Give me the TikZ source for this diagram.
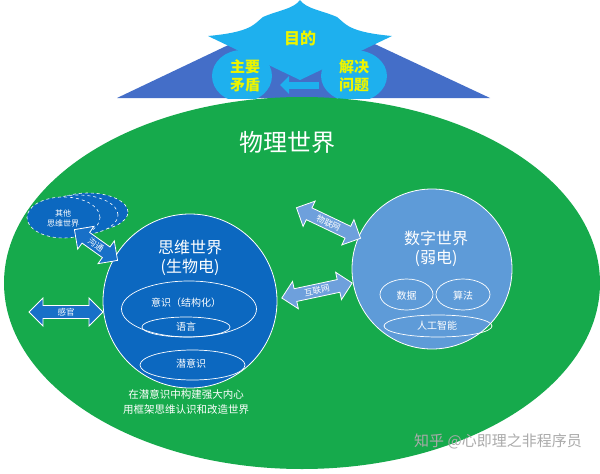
\documentclass[tikz,border=0pt]{standalone}
\usepackage{fontspec}
\setmainfont{Noto Sans CJK SC}
\usetikzlibrary{shapes.geometric,shapes.arrows,arrows.meta}
\definecolor{grn}{RGB}{22,170,76}
\definecolor{darkc}{RGB}{12,104,192}
\definecolor{lightc}{RGB}{94,155,216}
\definecolor{tri}{RGB}{68,110,200}
\definecolor{sky}{RGB}{30,176,238}
\definecolor{ylw}{RGB}{236,244,0}
\definecolor{darka}{RGB}{24,112,200}
\definecolor{lighta}{RGB}{110,160,220}
\definecolor{wm}{RGB}{170,170,170}
\tikzset{
  fs/.style={font=\fontsize{#1}{#1}\selectfont},
  topell/.style={ellipse, fill=sky, inner sep=0pt},
  toptxt/.style={text=ylw, font=\fontsize{15}{18}\selectfont\bfseries, align=center},
  world/.style={circle, draw=white, line width=0.8pt, inner sep=0pt},
  inell/.style={ellipse, draw=white, line width=0.7pt, inner sep=0pt},
  intxt/.style={text=white, font=\fontsize{10}{10}\selectfont},
  ttl/.style={text=white, font=\fontsize{16}{19}\selectfont, align=center},
  other/.style={ellipse, fill=darkc, draw=white, dashed, line width=0.6pt, inner sep=0pt},
  dblarrow/.style={double arrow, draw=white, line width=0.8pt, double arrow head extend=7.5pt,
    double arrow tip angle=90, inner xsep=1pt, inner ysep=2.2pt, text=white,
    font=\fontsize{8.5}{8.5}\selectfont},
}
\begin{document}
\begin{tikzpicture}[x=1pt,y=-1pt]
\useasboundingbox[fill=white] (0,0) rectangle (600,474);

% ---- top emblem
\fill[tri] (117,98) -- (302,10) -- (490,98) -- cycle;
\fill[sky] (300,0) .. controls (294,9) and (276,11) .. (263,17)
  .. controls (254,24) and (252,32) .. (208,36) -- (300,80) -- (392,36)
  .. controls (348,32) and (346,24) .. (337,17)
  .. controls (324,11) and (306,9) .. (300,0) -- cycle;
\begin{scope}
  \clip (100,0) rectangle (500,98);
  \node[topell, minimum width=60pt, minimum height=52pt] (zy) at (242,76) {};
  \node[topell, minimum width=66pt, minimum height=52pt] (jj) at (354,76) {};
\end{scope}
\node[toptxt, font=\fontsize{16}{18}\selectfont\bfseries] (md) at (300,38) {目的};
\node[toptxt] (zyt) at (245,76) {主要\\矛盾};
\node[toptxt] (jjt) at (354,76) {解决\\问题};
\coordinate (arS) at (319,85);
\coordinate (arE) at (280,85);
\draw[sky, line width=7pt, -{Triangle[width=17pt,length=9pt]}] (arS) -- (arE);

% ---- physical world
\node[ellipse, fill=grn, minimum width=596pt, minimum height=372pt, inner sep=0pt] (phys) at (302,283) {};
\node[text=white, fs=24] (physt) at (287,142) {物理世界};

% ---- other thinking worlds
\node[other, minimum width=80pt, minimum height=38pt] (o3) at (88,212) {};
\node[other, minimum width=80pt, minimum height=40pt] (o2) at (78,215) {};
\node[other, minimum width=73pt, minimum height=41pt] (o1) at (63.5,217.5) {};
\node[text=white, font=\fontsize{8}{10.5}\selectfont, align=center] (o1t) at (63,218.5) {其他\\思维世界};

% ---- thinking world
\node[world, fill=darkc, minimum size=174pt] (think) at (190,301) {};
\node[ttl] (thinkt) at (190,257.5) {思维世界\\(生物电)};
\node[inell, minimum width=135pt, minimum height=56pt] (yse) at (189,309) {};
\node[intxt] (yst) at (186,303) {意识（结构化）};
\node[inell, minimum width=88pt, minimum height=20pt] (yy) at (186,327) {};
\node[intxt] (yyt) at (186,327) {语言};
\node[inell, minimum width=105pt, minimum height=30pt] (qy) at (192.5,365) {};
\node[intxt] (qyt) at (191,364) {潜意识};
\node[text=white, font=\fontsize{10.5}{15}\selectfont, align=center] (note) at (186,402) {在潜意识中构建强大内心\\用框架思维认识和改造世界};

% ---- digital world
\node[world, fill=lightc, minimum size=160pt] (digi) at (432,269) {};
\node[ttl] (digit) at (436,249) {数字世界\\(弱电)};
\node[inell, minimum width=53pt, minimum height=31pt] (sj) at (406.5,294.5) {};
\node[intxt] (sjt) at (406.5,296) {数据};
\node[inell, minimum width=54pt, minimum height=31pt] (sf) at (463,294.5) {};
\node[intxt] (sft) at (463,296) {算法};
\node[inell, minimum width=108pt, minimum height=22pt] (ai) at (438,326) {};
\node[intxt] (ait) at (437,326) {人工智能};

% ---- double arrows
\node[dblarrow, fill=darka, minimum height=53pt, rotate=-35.5] (gt) at (96,245) {沟通};
\node[dblarrow, fill=darka, minimum height=74pt] (gg) at (66,312) {感官};
\node[dblarrow, fill=lighta, minimum height=71pt, rotate=-25.5] (wl) at (328.5,223) {物联网};
\node[dblarrow, fill=lighta, minimum height=72pt, rotate=12] (hl) at (317,290.5) {互联网};

% ---- watermark
\node[text=wm, fs=15] (wmk) at (498,441) {知乎 @心即理之非程序员};
\end{tikzpicture}
\end{document}
